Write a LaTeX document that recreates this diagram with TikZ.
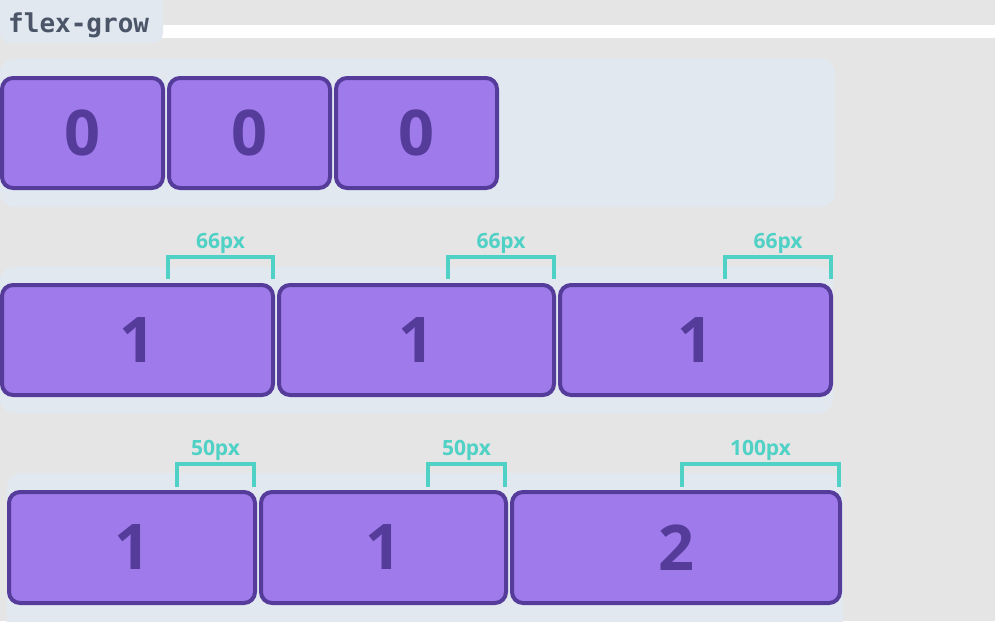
\documentclass[tikz,border=0pt]{standalone}
\usepackage{fontspec}
\setsansfont{Open Sans}
\setmonofont{DejaVu Sans Mono}
\usepackage{xcolor}
\usepackage{tikz}
\usetikzlibrary{positioning}
\definecolor{bgc}{HTML}{E5E5E5}
\definecolor{pane}{HTML}{E2E8F0}
\definecolor{itemfill}{HTML}{9F7AEA}
\definecolor{itemline}{HTML}{553C9A}
\definecolor{teal}{HTML}{4FD1C5}
\definecolor{ttlc}{HTML}{4A5568}

\begin{document}
\begin{tikzpicture}[x=1pt, y=-1pt,
    item/.style={draw=itemline, fill=itemfill, line width=4pt,
                 rounded corners=11pt, inner sep=0pt, text=itemline,
                 font=\sffamily\bfseries\fontsize{63}{63}\selectfont},
    pane/.style={fill=pane, rounded corners=14pt},
    brk/.style={draw=teal, line width=4pt},
    lbl/.style={font=\sffamily\bfseries\fontsize{21}{21}\selectfont,
                text=teal, anchor=base, inner sep=0pt},
    ttl/.style={font=\ttfamily\bfseries\fontsize{26}{26}\selectfont,
                text=ttlc, inner sep=0pt},
]
\useasboundingbox (0,0) rectangle (995,621);
\fill[bgc] (0,0) rectangle (995,621);

\fill[white] (150,25) rectangle (1000,38);
\fill[pane, rounded corners=10pt] (0,-12) rectangle (163,43);
\node[ttl, anchor=base west] (title) at (8,32) {flex-grow};

\fill[pane] (0,59) rectangle (835,207);
\fill[pane] (0,267) rectangle (833,413);
\fill[pane] (7,473) rectangle (843,640);

\node[item, minimum width=161pt, minimum height=110pt] (r1a) at (82.5,133) {0};
\node[item, minimum width=161pt, minimum height=110pt] (r1b) at (249.5,133) {0};
\node[item, minimum width=161pt, minimum height=110pt] (r1c) at (416.5,133) {0};

\node[item, minimum width=271pt, minimum height=110pt] (r2a) at (137.5,340) {1};
\node[item, minimum width=275pt, minimum height=110pt] (r2b) at (416.5,340) {1};
\node[item, minimum width=271pt, minimum height=110pt] (r2c) at (695.5,340) {1};

\node[item, minimum width=246pt, minimum height=111pt] (r3a) at (132,547.5) {1};
\node[item, minimum width=245pt, minimum height=111pt] (r3b) at (383.5,547.5) {1};
\node[item, minimum width=328pt, minimum height=111pt] (r3c) at (676,547.5) {2};

\foreach \b/\w/\t in {r2a/105/66px, r2b/106/66px, r2c/106/66px}
    \draw[brk] (\b.north east) ++(-2,-4) |- ++(-\w,-22)
        node[lbl, pos=0.75, yshift=9pt] {\t} -- ++(0,22);

\foreach \b/\w/\t in {r3a/77/50px, r3b/77/50px, r3c/157/100px}
    \draw[brk] (\b.north east) ++(-3,-3) |- ++(-\w,-23)
        node[lbl, pos=0.75, yshift=9pt] {\t} -- ++(0,23);
\end{tikzpicture}
\end{document}
